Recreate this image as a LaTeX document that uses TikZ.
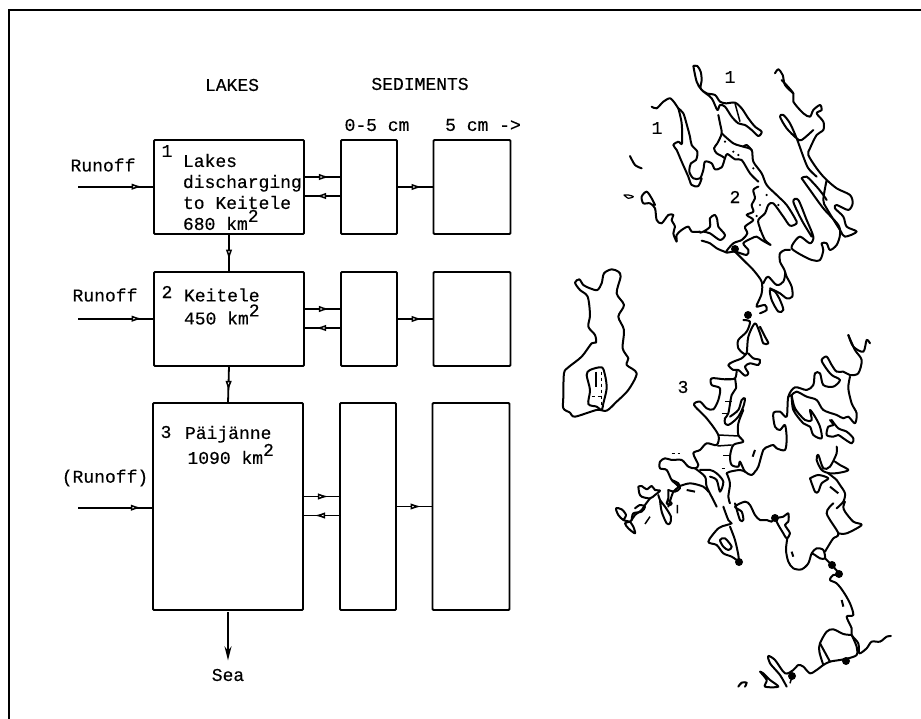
\documentclass[tikz,border=0pt]{standalone}
\usepackage{fontspec}
\setmonofont[FakeBold=0.4]{Liberation Mono}
\usetikzlibrary{arrows.meta,decorations.markings}
\newcommand{\kmsq}{km\smash{\raisebox{8pt}{2}}}
\tikzset{
  lakebox/.style={draw, line width=1.8pt, rounded corners=1pt, minimum width=150pt, inner sep=0pt, outer sep=0pt},
  topbox/.style={draw, line width=1.8pt, rounded corners=1pt, minimum width=56pt, inner sep=0pt, outer sep=0pt},
  deepbox/.style={draw, line width=1.8pt, rounded corners=1pt, minimum width=77pt, inner sep=0pt, outer sep=0pt},
  flowline/.style={line width=1.8pt, postaction={decorate}, decoration={markings,
      mark=at position #1 with {\arrow[line width=1.5pt]{Latex[length=11pt,width=6.5pt,fill=white]}}}},
  flowline/.default=0.7,
  shore/.style={line width=2pt, line join=round, line cap=round, smooth, tension=0.5},
  crop/.style 2 args={shift={(#1,#2)}, x=0.3333pt, y=-0.3333pt},
  txt/.style={inner sep=0pt, outer sep=0pt, align=left, anchor=west},
}
\begin{document}
\begin{tikzpicture}[x=1pt, y=-1pt, >={Stealth[length=14pt,width=7pt]},
    font=\fontsize{18}{21}\ttfamily\selectfont]
  \useasboundingbox (0,0) rectangle (921,719);
  \draw[line width=2pt] (9,719) -- (9,10) -- (921,10);
  % Headings
  \node (lakes) at (232,85) {LAKES};
  \node (sediments) at (420,84) {SEDIMENTS};
  \node (upper) at (377,125) {0-5 cm};
  \node (deep) at (483,125) {5 cm ->};
  % Boxes
  \foreach \n/\x/\y/\h/\ry in {1/229/187/94/186.7, 2/229/319/94/318.7, 3/228/506.5/207/507.7} {
    \node[lakebox, minimum height=\h pt] (lake\n) at (\x,\y) {};
    \node[topbox, minimum height=\h pt] (top\n) at (\x+140,\y) {};
    \node[deepbox, minimum height=\h pt] (deep\n) at (\x+243,\y) {};
    \node[inner sep=0pt] (num\n) at (\x-62,\y-\h/2+\n*9+2) {\n};
    \coordinate (run\n) at (78,\ry);
    \draw[flowline=0.85] (run\n) -- (lake\n.west |- run\n);
    \draw[flowline] ([yshift=10pt]lake\n.east) -- ([yshift=10pt]top\n.west);
    \draw[flowline] ([yshift=-9pt]top\n.west) -- ([yshift=-9pt]lake\n.east);
    \draw[flowline] (top\n.east) -- (deep\n.west);
  }
  \draw[flowline] (lake1.south) -- (lake2.north);
  \draw[flowline] (lake2.south) -- (lake3.north);
  % Labels
  \node[txt] (name1) at (183,192) {Lakes\\discharging\\to Keitele\\680 \kmsq};
  \node[txt] (name2) at (184,306.5) {Keitele\\[2pt]450 \kmsq};
  \node[txt] (name3) at (185,445) {Päijänne\\[4pt]\hspace{2.5pt}1090 \kmsq};
  \node (runoff1) at (103,165) {Runoff};
  \node (runoff2) at (105,295) {Runoff};
  \node (runoff3) at (105,478) {(Runoff)};
  \node (sea) at (228,675) {Sea};
  \draw[line width=2pt, ->, shorten >=5pt, shorten <=2pt] (lake3.south) -- (sea.north);
  \node (map1a) at (730,77) {1};
  \node (map1b) at (657,128) {1};
  \node (map2) at (735,197) {2};
  \node (map3) at (683,387) {3};
  % Finland
  \begin{scope}[crop={540}{260}]
    \draw[shore] plot[smooth cycle] coordinates {(105,68)(118,58)(130,75)(150,85)(172,90)(185,70)(192,40)(215,28)(235,35)(242,50)(230,100)(252,135)(235,170)(252,210)(248,265)(265,295)(260,315)(290,340)(265,390)(230,425)(200,452)(170,450)(105,470)(90,458)(70,445)(70,410)(72,340)(85,322)(125,290)(155,250)(168,248)(165,225)(145,200)(150,165)(143,110)(120,90)};
    \draw[shore] plot[smooth cycle] coordinates {(150,330)(185,322)(195,345)(200,385)(190,430)(185,450)(170,440)(145,432)(150,390)(140,345)};
    \draw[line width=1.5pt] (168,335) -- (168,380);
    \draw[line width=0.6pt, dashed] (185,335) -- (185,440);
    \draw[line width=0.6pt, dashed] (155,408) -- (190,408);
  \end{scope}
  % Northern lakes
  \begin{scope}[crop={640}{60}]
    \draw[shore] plot coordinates {(160,18)(172,18)(182,35)(185,60)(182,85)(200,100)(225,105)(240,125)(258,130)(285,128)(305,145)(325,175)(345,200)(365,215)(355,228)(335,210)(315,195)(295,190)(275,170)(255,140)(240,135)(232,150)(215,115)(185,90)(170,65)(160,18)};
    \draw[shore] plot coordinates {(405,40)(415,28)(428,45)(435,75)(460,100)};
    \draw[line width=1.5pt] (285,130) -- (300,185);
  \end{scope}
  \begin{scope}[crop={610}{80}]
    \draw[shore] plot coordinates {(125,80)(140,85)(160,65)(180,55)(195,70)(205,85)(220,100)(232,140)(240,170)(245,195)(262,215)(258,240)(243,250)(238,275)(250,295)(270,295)(280,270)(285,245)(305,250)(315,268)(335,262)(345,235)(352,222)(375,238)(395,240)(420,280)(445,305)};
    \draw[shore] plot coordinates {(205,85)(215,130)(216,190)(205,185)(190,195)(200,210)(215,245)(235,290)(245,315)(265,318)(275,295)};
    \draw[shore] plot coordinates {(325,105)(330,130)(335,160)(322,190)(312,205)(320,220)(335,228)(345,235)};
    \draw[shore] plot coordinates {(335,160)(370,190)(400,200)(425,210)(430,245)(455,280)(470,315)(500,345)(530,375)(555,415)(560,430)(540,437)(520,410)(490,370)(475,375)(465,400)(445,420)(450,445)(465,480)(482,495)(455,480)(440,470)(425,475)(400,490)(415,510)(410,525)(375,515)(348,517)(370,490)(395,480)(412,460)(405,440)(430,420)(410,405)(430,395)(425,375)(435,355)(430,330)(445,320)};
    \draw[shore] plot coordinates {(400,200)(410,195)(425,210)};
    \draw[shore] plot coordinates {(348,517)(320,505)(300,490)(275,482)};
    \draw[shore] plot coordinates {(270,458)(280,455)(300,440)(300,415)(315,405)(322,420)(325,440)(345,465)(330,480)(300,460)(280,455)};
    \draw[shore] plot coordinates {(270,455)(245,455)(235,440)(215,450)(200,465)(200,485)(190,460)(195,440)(185,420)(190,405)(175,405)(155,430)(140,420)(135,385)(120,370)(100,370)(95,350)(110,335)(125,355)(135,375)};
    \draw[shore] plot coordinates {(60,228)(75,255)(95,265)};
    \draw[shore, line width=1.2pt] plot coordinates {(42,345)(55,345)(70,350)(55,355)(42,345)};
    \draw[shore] plot coordinates {(515,0)(550,40)(550,65)(580,100)(600,110)(610,90)(630,75)(635,90)(620,100)(640,125)(640,150)(620,165)(600,205)(595,225)(620,265)(645,295)(680,325)(720,345)(728,370)(715,390)(680,375)(675,385)(700,410)(710,440)(740,455)(705,470)(690,450)(650,385)(640,360)(650,300)};
    \draw[shore] plot coordinates {(610,150)(575,180)(560,175)(530,145)(510,110)(520,105)(540,130)(560,175)(580,230)(595,265)(620,290)};
    \draw[shore] plot coordinates {(575,295)(590,290)(620,320)(640,345)(650,360)};
    \draw[shore] plot coordinates {(575,295)(600,330)(640,385)(685,435)(690,465)(680,495)(660,510)(650,490)(635,490)(640,510)(630,540)(605,540)(565,520)(545,505)(550,490)(570,470)(600,490)(610,470)(590,420)(565,360)(550,365)(575,420)(605,470)};
    \draw[shore] plot coordinates {(540,510)(525,510)(510,520)(510,545)(525,575)(520,605)(500,615)(475,590)(465,600)(460,610)};
    \draw[shore] plot coordinates {(525,575)(530,590)(545,620)(547,650)(530,655)(510,640)(480,625)};
    \draw[shore] plot coordinates {(375,515)(405,545)(430,570)(455,605)(455,640)(445,665)(440,680)(465,675)(470,690)(450,700)};
    \draw[shore] plot[smooth cycle] coordinates {(480,630)(485,660)(505,695)(520,690)(510,660)(495,635)};
    \foreach \x/\y in {370/215,430/265,470/345,450/375,440/408,450/450,505/375,345/185,385/225} {
      \fill (\x,\y) circle (1.2pt);
    }
  \end{scope}
  % Middle
  \begin{scope}[crop={610}{310}]
    \draw[shore] plot coordinates {(400,30)(420,35)(410,65)(385,90)(385,115)(400,130)(410,130)(415,80)(435,40)(450,70)(460,100)(475,100)(465,80)(450,50)};
    \draw[shore] plot coordinates {(415,130)(430,145)(450,150)(445,165)(420,160)(405,170)(415,190)(405,197)(385,180)(370,180)(355,165)(370,155)(395,145)(410,130)};
    \draw[shore] plot coordinates {(380,180)(375,205)(345,208)(305,205)(305,225)(330,235)(325,270)(310,298)(290,295)(270,275)(252,285)(290,325)(325,375)(320,405)(290,400)(270,420)(250,430)(265,465)(255,475)(235,470)(215,450)(185,450)(165,445)(150,455)(150,475)(170,480)(185,510)(205,530)(190,545)(175,590)};
    \draw[shore] plot coordinates {(375,205)(378,235)(365,255)(355,310)(345,325)(345,340)(355,345)(370,335)(385,320)(400,290)(405,265)(395,270)(385,300)(360,320)};
    \draw[shore] plot coordinates {(400,300)(385,340)(385,375)(400,395)(370,405)(360,440)(365,465)(385,470)(390,455)(405,485)(425,495)(435,485)(445,470)(460,420)(475,410)(490,405)(500,415)(525,420)(530,385)(525,345)(510,360)(495,350)(490,310)(510,305)(530,320)(535,260)(555,232)(590,240)(610,225)(615,190)(630,190)(640,225)(670,230)(690,210)(665,195)(645,170)(635,150)(650,140)(665,165)(680,185)(700,185)(720,195)(745,190)(755,150)(735,120)(715,75)};
    \draw[shore] plot coordinates {(715,75)(730,110)(760,125)(770,90)(780,100)};
    \draw[shore] plot coordinates {(720,200)(715,235)(725,280)(740,310)(735,340)(715,320)(700,325)(680,315)(640,300)(620,270)(590,260)(560,245)(545,255)(535,260)};
    \draw[shore] plot coordinates {(545,255)(550,300)(580,340)(600,350)(610,375)(635,385)(630,350)(615,320)(600,300)(605,330)(585,330)(555,295)(545,255)};
    \draw[shore] plot coordinates {(660,330)(670,345)(655,350)(650,375)(670,380)(685,375)(700,385)(725,400)(730,385)(710,365)(685,355)(665,330)};
    \draw[shore] plot coordinates {(680,410)(680,430)(660,470)(640,475)(625,435)(620,450)(635,480)(660,490)(690,488)(715,480)(690,465)(675,455)};
    \draw[shore] plot coordinates {(655,490)(680,510)(690,525)(705,550)(700,575)(680,595)};
    \draw[shore] plot coordinates {(600,505)(625,495)(655,505)(635,520)(625,545)(615,545)(600,505)};
    \draw[shore] plot coordinates {(350,490)(360,485)(390,480)(405,485)};
    \draw[shore] plot coordinates {(350,490)(360,520)(355,560)(360,580)};
    \draw[shore] plot coordinates {(255,475)(285,500)(290,530)(310,570)(320,590)};
    \draw[shore] plot coordinates {(270,480)(300,480)(320,490)(340,515)(330,545)(320,510)(300,500)};
    \draw[shore] plot coordinates {(205,530)(240,520)(280,530)(295,545)};
    \draw[line width=1.5pt] (325,375) -- (385,378) (322,408) -- (365,405);
    \draw[line width=1pt] (345,207) -- (372,207) (345,275) -- (365,275) (335,310) -- (350,310) (340,438) -- (360,438) (335,475) -- (345,475);
    \draw[line width=2pt] (230,540) -- (255,545) (435,420) -- (428,440) (660,530) -- (685,550);
    \draw[line width=1.2pt, dashed] (185,430) -- (210,430);
  \end{scope}
  % South-west arms
  \begin{scope}[crop={600}{470}]
    \draw[shore] plot coordinates {(205,60)(205,85)(200,100)(210,105)(215,100)(205,90)};
    \draw[shore] plot coordinates {(205,60)(225,65)(240,55)(235,40)(215,30)};
    \draw[shore] plot coordinates {(180,90)(185,125)(200,160)(210,160)(213,140)(195,110)(180,90)(175,75)};
    \draw[shore] plot coordinates {(115,50)(125,48)(140,58)(155,48)(165,60)(180,62)(165,75)(150,85)(125,80)(118,70)(115,50)};
    \draw[shore] plot coordinates {(150,85)(135,105)(125,120)(105,135)(95,150)(90,155)(75,160)(85,175)(105,190)(100,170)(90,155)};
    \draw[shore] plot coordinates {(105,115)(120,105)(135,110)(125,125)(100,130)(95,150)};
    \draw[shore] plot coordinates {(90,155)(70,150)(55,135)(48,115)(65,118)(78,135)(70,150)};
    \draw[line width=1.5pt] (150,140) -- (135,162) (232,105) -- (232,130);
  \end{scope}
  % Southern part
  \begin{scope}[crop={660}{500}]
    \draw[shore] plot coordinates {(190,20)(205,60)(215,70)(200,75)(175,85)(145,125)(170,135)(190,160)(215,170)(237,185)};
    \draw[shore] plot coordinates {(210,80)(225,120)(235,165)(237,185)};
    \draw[shore] plot[smooth cycle] coordinates {(180,120)(195,115)(215,140)(205,150)(190,140)};
    \draw[shore] plot coordinates {(225,10)(240,60)(250,60)(245,35)(225,20)(255,5)(270,15)(285,45)(300,60)(320,60)(335,65)(345,55)(370,50)(385,40)(385,65)(375,75)(390,100)(380,115)(370,100)(355,75)(345,55)};
    \draw[shore] plot coordinates {(382,115)(378,150)(385,185)(400,205)(425,208)(445,190)(455,160)(470,145)(490,150)(495,175)(480,175)(465,165)(455,160)};
    \draw[shore] plot coordinates {(495,155)(510,130)(520,115)(535,100)(500,40)(520,10)};
    \draw[shore] plot coordinates {(535,100)(560,100)(605,75)(580,65)(555,35)(550,20)(555,5)};
    \draw[shore] plot coordinates {(495,175)(515,195)(540,225)(520,225)(510,240)(530,250)(550,275)(570,310)(580,345)(560,350)(575,385)(575,405)(595,430)(598,460)(620,445)(635,425)(660,425)(680,410)(693,408)};
    \draw[shore] plot coordinates {(575,405)(550,402)(520,388)(500,395)(480,430)(478,455)(490,495)};
    \draw[shore] plot coordinates {(480,430)(510,485)};
    \draw[shore] plot coordinates {(575,405)(590,440)(590,465)(565,475)(540,480)(510,485)(490,495)(470,510)(450,520)(430,500)(415,495)(400,510)(375,520)(345,480)(325,468)(330,490)(360,525)(380,560)};
    \draw[shore] plot coordinates {(300,515)(310,520)(330,540)(355,560)(315,560)(320,540)(300,515)};
    \draw[shore] plot coordinates {(235,560)(245,548)(260,548)(255,560)};
    \draw[line width=1.5pt] (397,527) -- (390,550);
    \draw[line width=2pt] (395,155) -- (400,170) (545,300) -- (550,320);
  \end{scope}
  % Gauging points
  \foreach \x/\y in {735/249, 748/315, 739/562, 775/518, 832/565, 839/574, 846/661, 792/676} {
    \fill (\x,\y) circle (4pt);
  }
\end{tikzpicture}
\end{document}
